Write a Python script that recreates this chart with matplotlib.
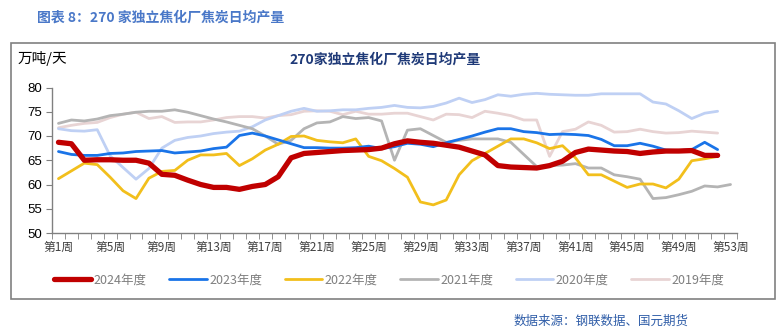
import numpy as np
import matplotlib
matplotlib.use("Agg")
import matplotlib.pyplot as plt
from matplotlib.patches import Rectangle

plt.rcParams['font.family'] = ['Noto Sans CJK SC', 'DejaVu Sans']

# -------------------------
# 数据：270家独立焦化厂焦炭日均产量（万吨/天）
# -------------------------
weeks = np.arange(1, 54)
tick_weeks = list(range(1, 54, 4))
tick_labels = [f"第{w}周" for w in tick_weeks]

y2024 = [68.7, 68.4, 65.0, 65.1, 65.1, 65.0, 65.0, 64.4, 62.1, 61.9, 60.9, 60.0, 59.4, 59.4,
         59.0, 59.6, 60.0, 61.6, 65.5, 66.4, 66.6, 66.8, 67.0, 67.1, 67.2, 67.5, 68.4, 69.0,
         68.7, 68.5, 68.1, 67.7, 66.9, 66.1, 63.9, 63.6, 63.5, 63.4, 63.9, 64.8, 66.6, 67.3,
         67.1, 66.9, 66.8, 66.4, 66.7, 66.9, 66.9, 67.0, 66.0, 66.0]
y2023 = [66.8, 66.2, 66.0, 66.0, 66.4, 66.5, 66.8, 66.9, 67.0, 66.5, 66.7, 66.9, 67.4, 67.7,
         70.1, 70.6, 70.0, 69.2, 68.4, 67.6, 67.6, 67.5, 67.5, 67.6, 67.9, 67.4, 67.8, 68.5,
         68.3, 67.8, 68.6, 69.3, 70.0, 70.8, 71.5, 71.5, 70.9, 70.7, 70.3, 70.4, 70.3, 70.1,
         69.3, 68.0, 68.0, 68.5, 67.9, 67.1, 67.0, 67.2, 68.7, 67.2]
y2022 = [61.2, 62.8, 64.4, 64.1, 61.5, 58.7, 57.1, 61.3, 62.7, 62.9, 65.0, 66.1, 66.1, 66.4,
         63.9, 65.3, 67.1, 68.3, 69.9, 70.0, 69.1, 68.8, 68.6, 69.4, 65.8, 64.9, 63.3, 61.5,
         56.4, 55.8, 56.8, 62.0, 64.9, 66.4, 67.9, 69.4, 69.4, 68.6, 67.4, 68.0, 65.5, 62.0,
         62.0, 60.7, 59.4, 60.1, 60.1, 59.3, 61.1, 64.9, 65.3, 65.8]
y2021 = [72.6, 73.3, 73.1, 73.5, 74.2, 74.5, 74.9, 75.1, 75.1, 75.4, 74.9, 74.2, 73.5, 72.9,
         72.2, 71.5, 70.0, 68.3, 69.1, 71.5, 72.7, 72.9, 74.0, 73.6, 73.8, 73.1, 65.0, 71.2,
         71.5, 70.1, 68.7, 69.1, 69.4, 69.4, 69.4, 68.7, 66.2, 63.7, 63.9, 64.0, 64.3, 63.4,
         63.4, 62.0, 61.6, 61.1, 57.1, 57.3, 57.9, 58.6, 59.7, 59.5, 60.0]
y2020 = [71.5, 71.1, 71.0, 71.3, 65.9, 63.5, 61.1, 63.3, 67.5, 69.1, 69.7, 70.0, 70.5, 70.8,
         71.0, 71.9, 73.3, 74.2, 75.1, 75.7, 75.1, 75.2, 75.4, 75.4, 75.7, 75.9, 76.3, 75.9,
         75.8, 76.1, 76.8, 77.8, 76.9, 77.5, 78.5, 78.2, 78.6, 78.8, 78.6, 78.5, 78.4, 78.4,
         78.7, 78.7, 78.7, 78.7, 77.0, 76.6, 75.2, 73.6, 74.7, 75.1]
y2019 = [71.7, 72.2, 72.6, 72.8, 73.8, 74.5, 74.9, 73.6, 74.0, 72.8, 72.9, 72.9, 73.3, 73.8,
         74.0, 74.0, 73.7, 74.2, 74.4, 75.1, 75.2, 75.1, 74.4, 75.1, 74.5, 74.5, 74.7, 74.7,
         74.0, 73.3, 74.5, 74.4, 73.8, 75.1, 74.7, 74.2, 73.3, 73.3, 65.8, 70.9, 71.4, 72.9,
         72.2, 70.8, 70.9, 71.4, 70.9, 70.6, 70.7, 71.0, 70.8, 70.6]

# 线条样式（从底层到顶层绘制）
series = [
    ("2019年度", y2019, "#E8D4D4", 2.0),
    ("2020年度", y2020, "#BFD0F4", 2.0),
    ("2021年度", y2021, "#B4B4B4", 2.0),
    ("2022年度", y2022, "#F2BF1C", 2.0),
    ("2023年度", y2023, "#1A74E8", 2.0),
    ("2024年度", y2024, "#C00000", 3.8),
]

fig = plt.figure(figsize=(7.82, 3.28), dpi=100)
ax = fig.add_axes([52 / 782, 1 - 233 / 328, 685 / 782, 145.5 / 328])

handles = {}
for label, vals, color, lw in series:
    line, = ax.plot(weeks[:len(vals)], vals, color=color, lw=lw,
                    solid_capstyle="round", solid_joinstyle="round", label=label)
    handles[label] = line

ax.set_xlim(0.5, 53.5)
ax.set_ylim(50, 80)
ax.set_yticks(range(50, 81, 5))
ax.set_xticks(tick_weeks)
ax.set_xticklabels(tick_labels, fontsize=8.5, color="#404040")
ax.set_xticks(np.arange(0.5, 54, 1), minor=True)
ax.tick_params(axis="x", which="major", length=0, pad=6)
ax.tick_params(axis="x", which="minor", length=4, color="#808080", direction="out")
ax.tick_params(axis="y", length=4, color="#808080", labelsize=9.5, pad=3)
for t in ax.get_yticklabels():
    t.set_fontfamily(["Liberation Sans", "DejaVu Sans"])

for side in ("top", "right"):
    ax.spines[side].set_visible(False)
for side in ("left", "bottom"):
    ax.spines[side].set_color("#808080")
    ax.spines[side].set_linewidth(1.0)

# 图例：2024 → 2019
order = ["2024年度", "2023年度", "2022年度", "2021年度", "2020年度", "2019年度"]
leg = fig.legend([handles[k] for k in order], order, loc="center",
                 bbox_to_anchor=(389 / 782, 1 - 280 / 328), ncol=6, frameon=False,
                 fontsize=9, handlelength=3.0, handletextpad=0.2, columnspacing=1.8)
for t in leg.get_texts():
    t.set_color("#7F7F7F")

# 外框
fig.patches.append(Rectangle((11 / 782, 1 - 299 / 328), 764 / 782, 256 / 328,
                             transform=fig.transFigure, fill=False,
                             edgecolor="#808080", lw=1.2))

fig.text(18 / 782, 1 - 58 / 328, "万吨/天", fontsize=10.5, color="black",
         ha="left", va="center")
fig.text(385 / 782, 1 - 60 / 328, "270家独立焦化厂焦炭日均产量", fontsize=10,
         fontweight="bold", color="#1F3A78", ha="center", va="center")
fig.text(37 / 782, 1 - 18 / 328, "图表 8：270 家独立焦化厂焦炭日均产量", fontsize=10,
         fontweight="bold", color="#4A78C8", ha="left", va="center")
fig.text(514 / 782, 1 - 321 / 328, "数据来源：钢联数据、国元期货", fontsize=9,
         color="#2F5DA8", ha="left", va="center")

fig.savefig("out.png", dpi=100)
